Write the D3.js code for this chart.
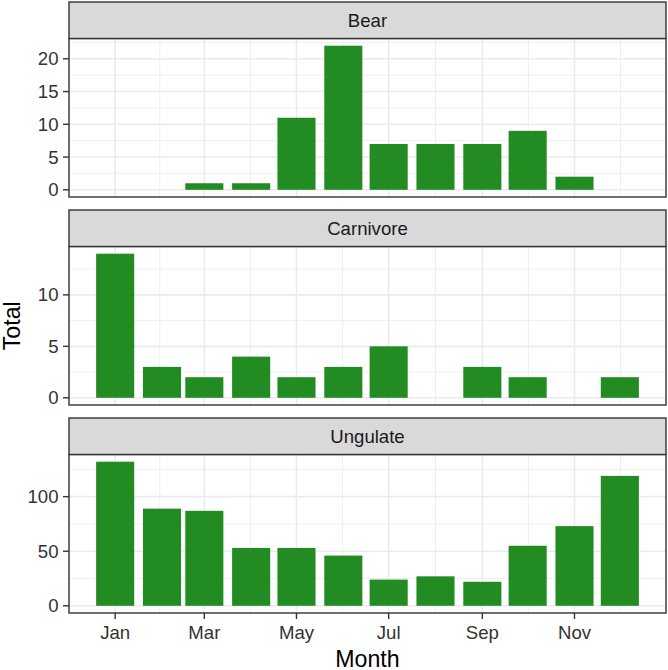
<!DOCTYPE html>
<html>
<head>
<meta charset="utf-8">
<script src="https://cdn.jsdelivr.net/npm/d3@7"></script>
<style>
  body { margin: 0; background: #fff; }
  text { font-family: "Liberation Sans", Arial, sans-serif; }
</style>
</head>
<body>
<svg id="chart" width="668" height="670"></svg>
<script>
// month index 0..11 = Jan..Dec
var months = [0, 1, 2, 3, 4, 5, 6, 7, 8, 9, 10, 11];
var groups = ["Bear", "Carnivore", "Ungulate"];
var bearTotals = [null, null, 1, 1, 11, 22, 7, 7, 7, 9, 2, null];
var carnivoreTotals = [14, 3, 2, 4, 2, 3, 5, null, 3, 2, null, 2];
var ungulateTotals = [132, 89, 87, 53, 53, 46, 24, 27, 22, 55, 73, 119];
var yTicks = [[0, 5, 10, 15, 20], [0, 5, 10], [0, 50, 100]];
var xTickMonths = [0, 2, 4, 6, 8, 10];
var xTickLabels = ["Jan", "Mar", "May", "Jul", "Sep", "Nov"];

var series = [bearTotals, carnivoreTotals, ungulateTotals];
var year = 2017;
var day = 864e5;
function monthDate(m) { return new Date(Date.UTC(year, m, 1)); }

var svg = d3.select("#chart");
var left = 69, right = 666;
var stripH = 36.5, panelH = 158.5, step = 208, top0 = 2;
var green = "#228B22";

// shared x scale (dates), bars 0.9 of the shortest month gap
var dates = months.map(monthDate);
var minGap = d3.min(d3.pairs(dates), function (p) { return p[1] - p[0]; });
var barW = 0.9 * minGap;
var x0 = +dates[0] - barW / 2, x1 = +dates[dates.length - 1] + barW / 2;
var xpad = (x1 - x0) * 0.05;
var x = d3.scaleUtc().domain([new Date(x0 - xpad), new Date(x1 + xpad)]).range([left, right]);

var xMajor = xTickMonths.map(monthDate);
var xExt = [monthDate(xTickMonths[0] - 2)].concat(xMajor, [monthDate(xTickMonths[xTickMonths.length - 1] + 2)]);
var xMinor = d3.pairs(xExt).map(function (p) { return new Date((+p[0] + +p[1]) / 2); })
    .filter(function (d) { return d >= x.domain()[0] && d <= x.domain()[1]; });

groups.forEach(function (name, i) {
    var vals = series[i];
    var sTop = top0 + i * step, pTop = sTop + stripH, pBot = pTop + panelH;
    var ymax = d3.max(vals);
    var y = d3.scaleLinear().domain([-0.05 * ymax, 1.05 * ymax]).range([pBot, pTop]);
    var ticks = yTicks[i];
    var tstep = ticks[1] - ticks[0];
    var ext = [ticks[0] - tstep].concat(ticks, [ticks[ticks.length - 1] + tstep]);
    var yMinor = d3.pairs(ext).map(function (p) { return (p[0] + p[1]) / 2; })
        .filter(function (v) { return v >= y.domain()[0] && v <= y.domain()[1]; });

    var g = svg.append("g");
    g.append("rect").attr("x", left).attr("y", pTop).attr("width", right - left).attr("height", panelH).attr("fill", "#fff");

    // grid
    g.selectAll(".ymin").data(yMinor).enter().append("line")
        .attr("x1", left).attr("x2", right).attr("y1", y).attr("y2", y)
        .attr("stroke", "#EBEBEB").attr("stroke-width", 0.8);
    g.selectAll(".xmin").data(xMinor).enter().append("line")
        .attr("x1", x).attr("x2", x).attr("y1", pTop).attr("y2", pBot)
        .attr("stroke", "#EBEBEB").attr("stroke-width", 0.8);
    g.selectAll(".ymaj").data(ticks).enter().append("line")
        .attr("x1", left).attr("x2", right).attr("y1", y).attr("y2", y)
        .attr("stroke", "#EBEBEB").attr("stroke-width", 1.6);
    g.selectAll(".xmaj").data(xMajor).enter().append("line")
        .attr("x1", x).attr("x2", x).attr("y1", pTop).attr("y2", pBot)
        .attr("stroke", "#EBEBEB").attr("stroke-width", 1.6);

    // bars
    var rows = months.map(function (m, j) { return { date: dates[j], v: vals[j] }; })
        .filter(function (d) { return d.v != null; });
    g.selectAll(".bar").data(rows).enter().append("rect")
        .attr("x", function (d) { return x(new Date(+d.date - barW / 2)); })
        .attr("width", function (d) { return x(new Date(+d.date + barW / 2)) - x(new Date(+d.date - barW / 2)); })
        .attr("y", function (d) { return y(d.v); })
        .attr("height", function (d) { return y(0) - y(d.v); })
        .attr("fill", green);

    g.append("rect").attr("x", left).attr("y", pTop).attr("width", right - left).attr("height", panelH)
        .attr("fill", "none").attr("stroke", "#333333").attr("stroke-width", 1.4);

    // strip
    g.append("rect").attr("x", left).attr("y", sTop).attr("width", right - left).attr("height", stripH)
        .attr("fill", "#D9D9D9").attr("stroke", "#333333").attr("stroke-width", 1.4);
    g.append("text").attr("x", (left + right) / 2).attr("y", sTop + stripH / 2 + 7)
        .attr("text-anchor", "middle").attr("font-size", 18.6).attr("fill", "#1A1A1A").text(name);

    // y axis
    var ya = g.selectAll(".yt").data(ticks).enter();
    ya.append("line").attr("x1", left - 6).attr("x2", left).attr("y1", y).attr("y2", y)
        .attr("stroke", "#333333").attr("stroke-width", 1.4);
    ya.append("text").attr("x", left - 10.5).attr("y", function (v) { return y(v) + 6.6; })
        .attr("text-anchor", "end").attr("font-size", 18.6).attr("fill", "#333333").text(function (v) { return v; });

    if (i === groups.length - 1) {
        var xa = g.selectAll(".xt").data(xMajor).enter();
        xa.append("line").attr("x1", x).attr("x2", x).attr("y1", pBot).attr("y2", pBot + 6)
            .attr("stroke", "#333333").attr("stroke-width", 1.4);
        xa.append("text").attr("x", x).attr("y", pBot + 25.5)
            .attr("text-anchor", "middle").attr("font-size", 18.6).attr("fill", "#333333")
            .text(function (d, j) { return xTickLabels[j]; });
    }
});

var panelsTop = top0 + stripH, panelsBot = top0 + 2 * step + stripH + panelH;
svg.append("text").attr("transform", "translate(20," + ((panelsTop + panelsBot) / 2) + ") rotate(-90)")
    .attr("text-anchor", "middle").attr("font-size", 23.2).attr("fill", "#000").text("Total");
svg.append("text").attr("x", (left + right) / 2).attr("y", 666.5)
    .attr("text-anchor", "middle").attr("font-size", 23.2).attr("fill", "#000").text("Month");
</script>
</body>
</html>
